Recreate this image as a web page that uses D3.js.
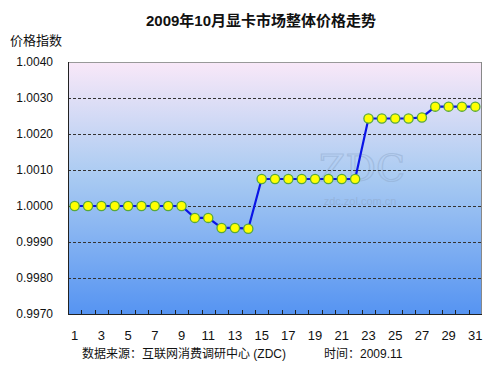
<!DOCTYPE html>
<html>
<head>
<meta charset="utf-8">
<script src="https://cdn.jsdelivr.net/npm/d3@7"></script>
<style>
  body { margin: 0; background: #fff; }
  text { font-family: "Liberation Sans", Arial, "Noto Sans CJK SC", sans-serif; }
  .cjk { font-family: "Liberation Sans", "Noto Sans CJK SC", sans-serif; }
</style>
</head>
<body>
<svg id="chart" width="501" height="376"></svg>
<script>
// Data
const days = d3.range(1, 32);
const priceIndex = [
    1.0000, 1.0000, 1.0000, 1.0000, 1.0000, 1.0000, 1.0000, 1.0000, 1.0000,
    0.99967, 0.99967, 0.99939, 0.99939, 0.99937,
    1.00075, 1.00075, 1.00075, 1.00075, 1.00075, 1.00075, 1.00075, 1.00075,
    1.00243, 1.00243, 1.00243, 1.00243, 1.00246,
    1.00276, 1.00276, 1.00276, 1.00276
];
const yTicks = [0.9970, 0.9980, 0.9990, 1.0000, 1.0010, 1.0020, 1.0030, 1.0040];
const xLabels = days.filter(d => d % 2 === 1);

const margin = { top: 62, right: 19, bottom: 62, left: 68 };
const width = 501, height = 376;

var svg = d3.select("#chart");

// Background gradient for the plot area
var defs = svg.append("defs");
var grad = defs.append("linearGradient")
    .attr("id", "bg")
    .attr("x1", 0).attr("y1", 0).attr("x2", 0).attr("y2", 1);
grad.append("stop").attr("offset", "0%").attr("stop-color", "#f9e8f8");
grad.append("stop").attr("offset", "45%").attr("stop-color", "#aacbf2");
grad.append("stop").attr("offset", "100%").attr("stop-color", "#5694f2");

var x = d3.scaleBand()
    .domain(days)
    .range([margin.left, width - margin.right]);

var y = d3.scaleLinear()
    .domain([0.9970, 1.0040])
    .range([height - margin.bottom, margin.top]);

var x0 = margin.left, x1 = width - margin.right;
var y0 = height - margin.bottom, y1 = margin.top;

svg.append("rect")
    .attr("x", x0).attr("y", y1)
    .attr("width", x1 - x0).attr("height", y0 - y1)
    .attr("fill", "url(#bg)");

// Watermark
svg.append("text")
    .attr("x", 362).attr("y", 181)
    .attr("text-anchor", "middle")
    .style("font-family", "'DejaVu Serif', serif")
    .style("font-size", "38px")
    .attr("fill", "none")
    .attr("stroke", "#8fa9cc")
    .attr("stroke-opacity", 0.5)
    .attr("stroke-width", 1.2)
    .text("ZDC");
svg.append("text")
    .attr("x", 360).attr("y", 205)
    .attr("text-anchor", "middle")
    .style("font-size", "11px")
    .attr("fill", "#8fa9cc")
    .attr("fill-opacity", 0.6)
    .text("zdc.zol.com.cn");

// Dashed grid lines
svg.append("g")
    .selectAll("line")
    .data(yTicks.slice(1, -1))
    .enter()
    .append("line")
    .attr("x1", x0).attr("x2", x1)
    .attr("y1", d => Math.round(y(d)) + 0.5)
    .attr("y2", d => Math.round(y(d)) + 0.5)
    .attr("stroke", "#333")
    .attr("stroke-dasharray", "3,2");

// Plot border: top/right gray, left/bottom dark
svg.append("line").attr("x1", x0).attr("x2", x1).attr("y1", y1 + 0.5).attr("y2", y1 + 0.5).attr("stroke", "#999");
svg.append("line").attr("x1", x1 - 0.5).attr("x2", x1 - 0.5).attr("y1", y1).attr("y2", y0).attr("stroke", "#888");
svg.append("line").attr("x1", x0 + 0.5).attr("x2", x0 + 0.5).attr("y1", y1).attr("y2", y0 + 1).attr("stroke", "#222");
svg.append("line").attr("x1", x0).attr("x2", x1).attr("y1", y0 + 0.5).attr("y2", y0 + 0.5).attr("stroke", "#222");

// X tick marks at band boundaries (pointing inward)
svg.append("g")
    .selectAll("line")
    .data(days.slice(1))
    .enter()
    .append("line")
    .attr("x1", d => Math.round(x(d)) + 0.5)
    .attr("x2", d => Math.round(x(d)) + 0.5)
    .attr("y1", y0)
    .attr("y2", y0 - 4)
    .attr("stroke", "#222");

// Y tick labels
svg.append("g")
    .selectAll("text")
    .data(yTicks)
    .enter()
    .append("text")
    .attr("x", 53)
    .attr("y", d => y(d) + 4)
    .attr("text-anchor", "end")
    .style("font-size", "12px")
    .attr("fill", "#111")
    .text(d => d3.format(".4f")(d));

// X tick labels
svg.append("g")
    .selectAll("text")
    .data(xLabels)
    .enter()
    .append("text")
    .attr("x", d => x(d) + x.bandwidth() / 2)
    .attr("y", 340)
    .attr("text-anchor", "middle")
    .style("font-size", "13px")
    .attr("fill", "#111")
    .text(d => d);

// Line + markers
var line = d3.line()
    .x((d, i) => x(days[i]) + x.bandwidth() / 2)
    .y(d => y(d));

svg.append("path")
    .datum(priceIndex)
    .attr("d", line)
    .attr("fill", "none")
    .attr("stroke", "#0a14e6")
    .attr("stroke-width", 2.2);

svg.append("g")
    .selectAll("circle")
    .data(priceIndex)
    .enter()
    .append("circle")
    .attr("cx", (d, i) => x(days[i]) + x.bandwidth() / 2)
    .attr("cy", d => y(d))
    .attr("r", 4.6)
    .attr("fill", "#ffff00")
    .attr("stroke", "#58a83a")
    .attr("stroke-width", 1.3);

// Titles
svg.append("text")
    .attr("class", "cjk")
    .attr("x", 261).attr("y", 26)
    .attr("text-anchor", "middle")
    .style("font-size", "15px")
    .style("font-weight", "bold")
    .attr("fill", "#111")
    .text("2009年10月显卡市场整体价格走势");

svg.append("text")
    .attr("class", "cjk")
    .attr("x", 10).attr("y", 45)
    .style("font-size", "13px")
    .attr("fill", "#111")
    .text("价格指数");

svg.append("text")
    .attr("class", "cjk")
    .attr("x", 82).attr("y", 358)
    .style("font-size", "12px")
    .attr("fill", "#111")
    .text("数据来源：互联网消费调研中心 (ZDC)");

svg.append("text")
    .attr("class", "cjk")
    .attr("x", 324).attr("y", 358)
    .style("font-size", "12px")
    .attr("fill", "#111")
    .text("时间：2009.11");
</script>
</body>
</html>
